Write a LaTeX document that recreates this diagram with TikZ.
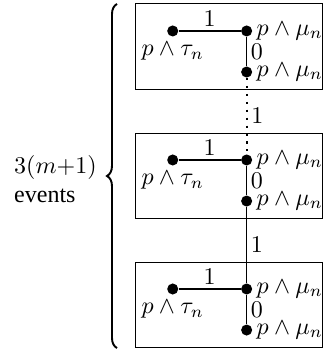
\documentclass[tikz,border=0pt]{standalone}
\usepackage{fontspec}
\setmainfont{Liberation Serif}
\usetikzlibrary{positioning, decorations.pathreplacing}

\begin{document}
\begin{tikzpicture}[
    node distance=17.1pt and 30.8pt, on grid,
    vtx/.style={circle, fill, inner sep=0pt, minimum size=4.6pt},
    mulab/.style={inner sep=1.5pt},
    taulab/.style={inner sep=2pt},
    edge/.style={line width=0.5pt},
    wlab/.style={inner sep=1.5pt},
    evbox/.style={line width=0.4pt},
    dotline/.style={line width=0.9pt, dash pattern=on 0.9pt off 2.4pt},
    brace/.style={decorate, decoration={brace, amplitude=4.2pt}, line width=0.8pt}
]
\useasboundingbox (-71.96pt,12.9pt) rectangle (62.6pt,-132.5pt);

% =========== first event block ===========
\node[vtx, label={[taulab]below:$p\wedge\tau_n$}]            (tau1) at (0,0) {};
\node[vtx, right=of tau1, label={[mulab]right:$p\wedge\mu_n$}] (mu1)  {};
\node[vtx, below=of mu1,  label={[mulab]right:$p\wedge\mu_n$}] (mub1) {};

\draw[edge] (tau1) -- node[wlab, above] {$1$} (mu1);
\draw[edge] (mu1)  -- node[wlab, right] {$0$} (mub1);
\draw[evbox] ([shift={(-15.7pt,11.25pt)}]tau1.center) rectangle ([shift={(31.4pt,-7.1pt)}]mub1.center);

% =========== second event block ===========
\node[vtx, below=53.75pt of tau1, label={[taulab]below:$p\wedge\tau_n$}] (tau2) {};
\node[vtx, right=of tau2, label={[mulab]right:$p\wedge\mu_n$}] (mu2)  {};
\node[vtx, below=of mu2,  label={[mulab]right:$p\wedge\mu_n$}] (mub2) {};

\draw[edge] (tau2) -- node[wlab, above] {$1$} (mu2);
\draw[edge] (mu2)  -- node[wlab, right] {$0$} (mub2);
\draw[evbox] ([shift={(-15.7pt,11.25pt)}]tau2.center) rectangle ([shift={(31.4pt,-7.1pt)}]mub2.center);

% =========== third event block ===========
\node[vtx, below=53.75pt of tau2, label={[taulab]below:$p\wedge\tau_n$}] (tau3) {};
\node[vtx, right=of tau3, label={[mulab]right:$p\wedge\mu_n$}] (mu3)  {};
\node[vtx, below=of mu3,  label={[mulab]right:$p\wedge\mu_n$}] (mub3) {};

\draw[edge] (tau3) -- node[wlab, above] {$1$} (mu3);
\draw[edge] (mu3)  -- node[wlab, right] {$0$} (mub3);
\draw[evbox] ([shift={(-15.7pt,11.25pt)}]tau3.center) rectangle ([shift={(31.4pt,-7.1pt)}]mub3.center);

% links between blocks
\draw[dotline] (mub1) -- node[wlab, right] {$1$} (mu2);
\draw[edge]    (mub2) -- node[wlab, right] {$1$} (mu3);

% brace and count
\coordinate (bracebot) at (-23.2pt,-132.1pt);
\coordinate (bracetop) at (-23.2pt,11.25pt);
\draw[brace] (bracebot) -- (bracetop);
\node[anchor=east, align=left, inner sep=0pt] (count) at (-31.5pt,-61.7pt)
    {$3(m{+}1)$\\events};

\end{tikzpicture}
\end{document}
